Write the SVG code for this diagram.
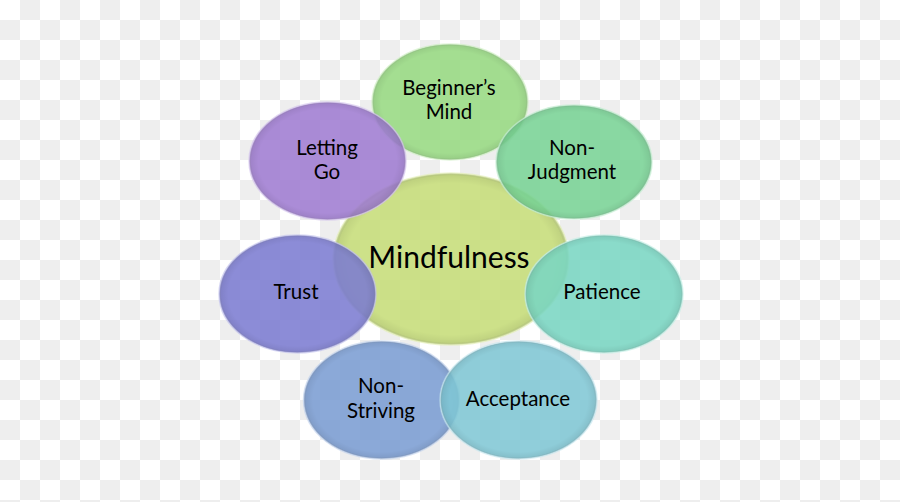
<svg xmlns="http://www.w3.org/2000/svg" width="900" height="502" viewBox="0 0 900 502">
<defs>
<pattern id="checker" width="40" height="40" patternUnits="userSpaceOnUse">
<rect width="40" height="40" fill="#ffffff"/>
<rect x="20" y="0" width="20" height="20" fill="#eeeeee"/>
<rect x="0" y="20" width="20" height="20" fill="#eeeeee"/>
</pattern>
<radialGradient id="rim" cx="50%" cy="50%" r="50%">
<stop offset="0.88" stop-color="#000" stop-opacity="0"/>
<stop offset="0.97" stop-color="#000" stop-opacity="0.06"/>
<stop offset="1" stop-color="#fff" stop-opacity="0.35"/>
</radialGradient>
</defs>
<style>
.c{fill-opacity:0.87;stroke-opacity:0.6;stroke-width:1.5}
.r{fill:url(#rim);stroke:none}
text{font-family:Lato,"Open Sans","Liberation Sans",sans-serif;fill:#000;text-anchor:middle}
.s{font-size:20.5px}
.b{font-size:30px}
</style>
<rect width="900" height="502" fill="url(#checker)"/>
<g id="mindfulness">
<ellipse class="c" cx="451" cy="259" rx="118" ry="86" fill="#c6dc78" stroke="#e2eeb4"/>
<ellipse class="r" cx="451" cy="259" rx="118" ry="86"/>
</g>
<g id="beginners-mind">
<ellipse class="c" cx="450" cy="102" rx="78" ry="58" fill="#96d981" stroke="#cdeec2"/>
<ellipse class="r" cx="450" cy="102" rx="78" ry="58"/>
</g>
<g id="letting-go">
<ellipse class="c" cx="327.5" cy="161" rx="78.5" ry="59" fill="#9f7bd1" stroke="#d2c2ec"/>
<ellipse class="r" cx="327.5" cy="161" rx="78.5" ry="59"/>
</g>
<g id="non-judgment">
<ellipse class="c" cx="574" cy="162" rx="78" ry="57" fill="#78d294" stroke="#c0ecce"/>
<ellipse class="r" cx="574" cy="162" rx="78" ry="57"/>
</g>
<g id="trust">
<ellipse class="c" cx="297.5" cy="294" rx="78.5" ry="59" fill="#7b7bd1" stroke="#c2c2ec"/>
<ellipse class="r" cx="297.5" cy="294" rx="78.5" ry="59"/>
</g>
<g id="patience">
<ellipse class="c" cx="604" cy="294" rx="79" ry="59" fill="#79d6c2" stroke="#c2eee4"/>
<ellipse class="r" cx="604" cy="294" rx="79" ry="59"/>
</g>
<g id="non-striving">
<ellipse class="c" cx="381.5" cy="400" rx="78" ry="59" fill="#7a9cd2" stroke="#c2d2ec"/>
<ellipse class="r" cx="381.5" cy="400" rx="78" ry="59"/>
</g>
<g id="acceptance">
<ellipse class="c" cx="518.5" cy="400" rx="78.5" ry="59" fill="#80c7d5" stroke="#c4e6ee"/>
<ellipse class="r" cx="518.5" cy="400" rx="78.5" ry="59"/>
</g>
<g id="labels">
<text class="b" x="449" y="268">Mindfulness</text>
<text class="s" x="449" y="95">Beginner’s</text>
<text class="s" x="449" y="119">Mind</text>
<text class="s" x="327" y="155">Letting</text>
<text class="s" x="327" y="179">Go</text>
<text class="s" x="572" y="155">Non-</text>
<text class="s" x="572" y="179">Judgment</text>
<text class="s" x="296" y="299">Trust</text>
<text class="s" x="602" y="299">Patience</text>
<text class="s" x="381" y="393">Non-</text>
<text class="s" x="381" y="418">Striving</text>
<text class="s" x="518" y="406">Acceptance</text>
</g>
</svg>
